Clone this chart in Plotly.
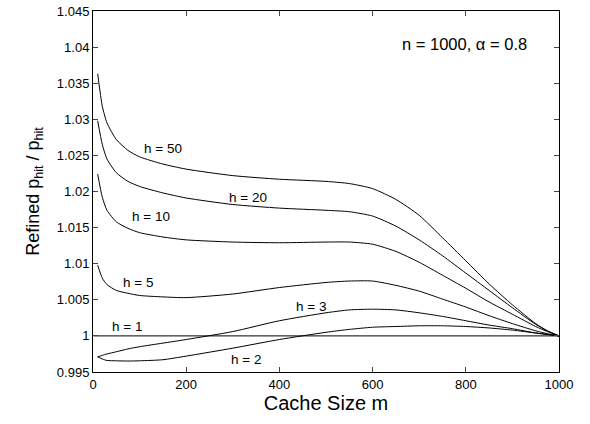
import plotly.graph_objects as go

# cache size m
m = [10, 20, 30, 50, 75, 100, 150, 200, 300, 400, 500, 550, 600, 650, 700, 750, 800, 850, 900, 950, 975, 1000]

h50 = [1.0363, 1.0318, 1.0295, 1.0272, 1.0257, 1.0248, 1.0238, 1.0231, 1.0222, 1.0217, 1.0214, 1.0211,
       1.0204, 1.0189, 1.0167, 1.0136, 1.0104, 1.0072, 1.0043, 1.0017, 1.0007, 1.0]
h20 = [1.0298, 1.0265, 1.0245, 1.0226, 1.0214, 1.0207, 1.0198, 1.0191, 1.0182, 1.0177, 1.0174, 1.0172,
       1.0166, 1.0152, 1.0133, 1.0111, 1.0087, 1.0063, 1.0039, 1.0016, 1.0007, 1.0]
h10 = [1.0224, 1.0192, 1.0174, 1.0158, 1.0149, 1.0143, 1.0137, 1.0133, 1.0130, 1.0129, 1.0130, 1.0130,
       1.0127, 1.0117, 1.0102, 1.0084, 1.0066, 1.0047, 1.0030, 1.0013, 1.0006, 1.0]
h5 = [1.0098, 1.0080, 1.0071, 1.0063, 1.0059, 1.0056, 1.0054, 1.0053, 1.0058, 1.0067, 1.0074, 1.0076,
      1.0076, 1.0070, 1.0062, 1.0051, 1.0040, 1.0028, 1.0017, 1.0007, 1.0003, 1.0]
h3 = [0.9971, 0.9973, 0.9975, 0.9978, 0.9982, 0.9985, 0.9990, 0.9995, 1.0006, 1.0021, 1.0032, 1.0036,
      1.0037, 1.0036, 1.0032, 1.0027, 1.0021, 1.0015, 1.0010, 1.0004, 1.0002, 1.0]
h2 = [0.9971, 0.9968, 0.9966, 0.99655, 0.99652, 0.99655, 0.9967, 0.9972, 0.9983, 0.9995, 1.0005, 1.0009,
      1.0012, 1.0013, 1.0014, 1.0014, 1.0013, 1.0011, 1.0008, 1.0004, 1.0002, 1.0]
m_h1 = [1, 1000]
h1 = [1.0, 1.0]

# curve labels
label_text = ['h = 50', 'h = 20', 'h = 10', 'h = 5', 'h = 3', 'h = 2', 'h = 1']
label_x = [150, 332, 124, 97, 468, 329, 73]
label_y = [1.0260, 1.0192, 1.0166, 1.0074, 1.0041, 0.9968, 1.0013]

yticks = [0.995, 1, 1.005, 1.01, 1.015, 1.02, 1.025, 1.03, 1.035, 1.04, 1.045]
ytick_text = ['0.995', '1', '1.005', '1.01', '1.015', '1.02', '1.025', '1.03', '1.035', '1.04', '1.045']
xticks = [0, 200, 400, 600, 800, 1000]

font = 'Liberation Sans, Arial, Helvetica, sans-serif'

fig = go.Figure()
line = dict(color='black', width=1, shape='spline', smoothing=0.6)
for ys in [h50, h20, h10, h5, h3, h2]:
    fig.add_trace(go.Scatter(x=m, y=ys, mode='lines', line=line, showlegend=False))
fig.add_trace(go.Scatter(x=m_h1, y=h1, mode='lines', line=dict(color='black', width=1), showlegend=False))

for t, x, y in zip(label_text, label_x, label_y):
    fig.add_annotation(x=x, y=y, text=t, showarrow=False, font=dict(size=13.5, color='black'))

fig.add_annotation(x=798, y=1.0404, text='n = 1000, \u03b1 = 0.8', showarrow=False,
                   font=dict(size=16.5, color='black'))

fig.update_layout(
    width=590, height=424,
    margin=dict(l=93, r=31, t=11, b=52),
    plot_bgcolor='white', paper_bgcolor='white',
    font=dict(family=font, color='black', size=13),
)
fig.update_xaxes(range=[0, 1000], tickvals=xticks, ticks='inside', ticklen=5, mirror='ticks',
                 showline=True, linecolor='black', linewidth=1, showgrid=False, zeroline=False,
                 automargin=False,
                 title=dict(text='Cache Size m', font=dict(size=20), standoff=2))
fig.update_yaxes(range=[0.995, 1.045], tickvals=yticks, ticktext=ytick_text, ticks='inside', ticklen=5,
                 mirror='ticks', showline=True, linecolor='black', linewidth=1, showgrid=False, zeroline=False,
                 automargin=False,
                 title=dict(text='Refined p<sub>hit</sub> / p<sub>hit</sub>', font=dict(size=18), standoff=12))

# page body has a default 8px margin; drop it so the figure sits at the window corner
fig.write_html("out.html", config={'displayModeBar': False},
               post_script="document.body.style.margin='0';")
